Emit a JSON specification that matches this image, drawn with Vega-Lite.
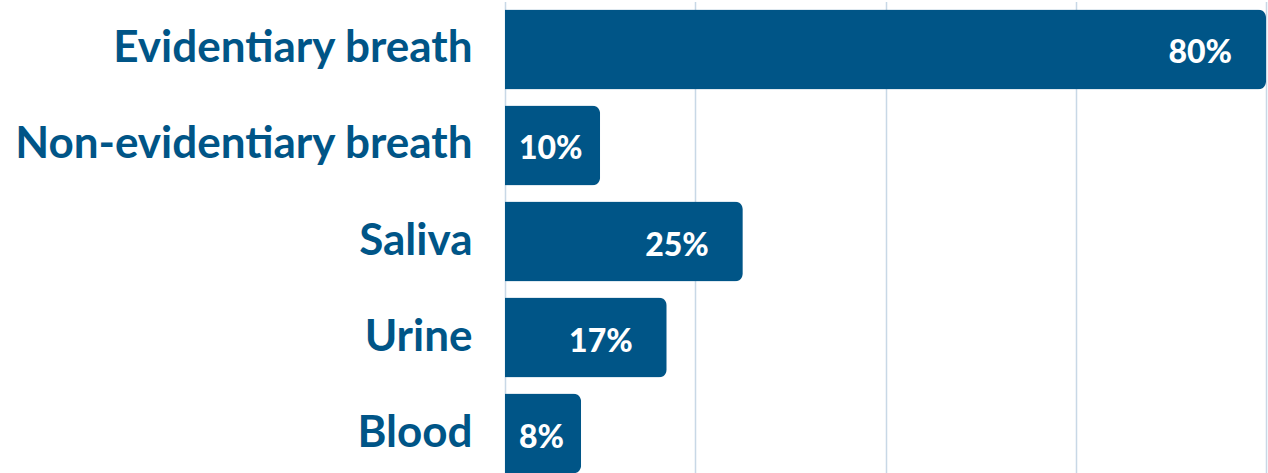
{
  "$schema": "https://vega.github.io/schema/vega-lite/v6.json",
  "autosize": "none",
  "width": 761,
  "height": 480,
  "padding": {"left": 505, "top": 1.5, "right": 2, "bottom": 0},
  "background": "white",
  "data": {"values": [
    {"method": "Evidentiary breath", "pct": 80, "label": "80%"},
    {"method": "Non-evidentiary breath", "pct": 10, "label": "10%"},
    {"method": "Saliva", "pct": 25, "label": "25%"},
    {"method": "Urine", "pct": 17, "label": "17%"},
    {"method": "Blood", "pct": 8, "label": "8%"}
  ]},
  "config": {"view": {"stroke": null}},
  "encoding": {
    "y": {
      "field": "method", "type": "nominal", "sort": null,
      "scale": {"paddingInner": 0.1667, "paddingOuter": 0.0833},
      "axis": {
        "title": null, "domain": false, "ticks": false,
        "labelFont": "Lato", "labelFontWeight": "bold", "labelFontSize": 44,
        "labelColor": "#005587", "labelPadding": 33, "labelLimit": 500
      }
    }
  },
  "layer": [
    {
      "mark": {"type": "bar", "color": "#005587", "cornerRadiusEnd": 8},
      "encoding": {
        "x": {
          "field": "pct", "type": "quantitative",
          "scale": {"domain": [0, 80], "nice": false},
          "axis": {
            "title": null, "labels": false, "ticks": false, "domain": false,
            "values": [0, 20, 40, 60, 80], "grid": true,
            "gridColor": "#c8d8e6", "gridWidth": 1.5
          }
        }
      }
    },
    {
      "transform": [{"filter": "datum.pct >= 15"}],
      "mark": {"type": "text", "align": "right", "baseline": "middle", "dx": -34, "dy": 4,
               "font": "Lato", "fontWeight": 900, "fontSize": 32, "color": "white"},
      "encoding": {
        "x": {"field": "pct", "type": "quantitative"},
        "text": {"field": "label", "type": "nominal"}
      }
    },
    {
      "transform": [{"filter": "datum.pct < 15"}],
      "mark": {"type": "text", "align": "left", "baseline": "middle", "dx": 14, "dy": 4,
               "font": "Lato", "fontWeight": 900, "fontSize": 32, "color": "white"},
      "encoding": {
        "x": {"datum": 0, "type": "quantitative"},
        "text": {"field": "label", "type": "nominal"}
      }
    }
  ]
}
